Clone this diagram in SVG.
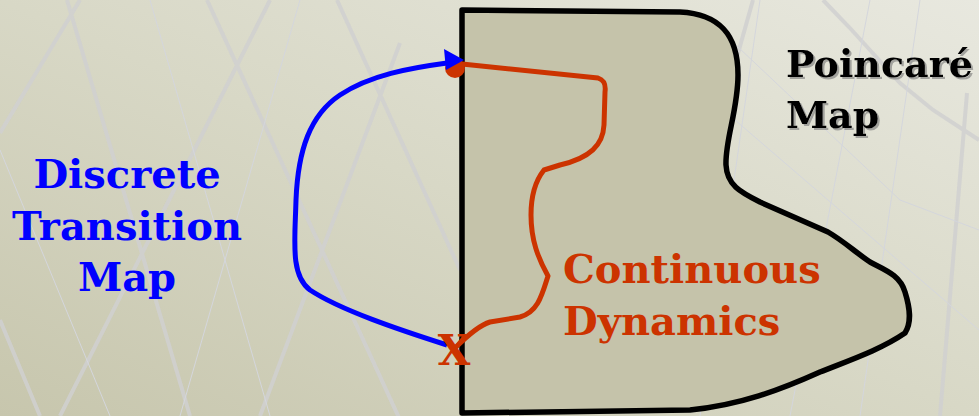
<svg xmlns="http://www.w3.org/2000/svg" width="979" height="416" viewBox="0 0 979 416">
<defs>
<linearGradient id="bg" x1="1" y1="0" x2="0" y2="1">
<stop offset="0" stop-color="#e8e8df"/>
<stop offset="0.5" stop-color="#d8d8c6"/>
<stop offset="1" stop-color="#c7c6ad"/>
</linearGradient>
<filter id="shadow" x="-10%" y="-10%" width="130%" height="130%">
<feDropShadow dx="2" dy="2" stdDeviation="0.6" flood-color="#777" flood-opacity="0.6"/>
</filter>
<style>
.bgl{stroke:#d0d0d0;stroke-width:4;fill:none;opacity:0.85}
.bgt{stroke:#d4d6dc;stroke-width:1;fill:none}
.lbl{font-family:"DejaVu Serif","Liberation Serif",serif;font-weight:bold;font-size:40px}
</style>
</defs>
<rect width="979" height="416" fill="url(#bg)"/>
<g id="background-lines">
<path class="bgl" d="M80,0 L0,133 M67,0 L190,416 M270,0 L60,416 M207,0 L400,420 M0,320 L40,416 M337,0 L460,270 M400,43 L260,416 M753,0 L737,57 M823,0 L849,27 L900,83 L933,110 L979,140 M967,93 L940,416"/>
<path class="bgt" d="M0,150 L110,416 M150,0 L270,416 M300,0 L180,416 M720,30 L900,200 L979,230 M870,0 L790,416 M920,0 L860,416 M735,120 L979,330 M760,0 L700,416"/>
</g>
<g id="poincare-region">
<path d="M462,10 L680,12 C720,14 738,35 738,75 C738,110 725,140 726,165 C727,185 740,192 760,202 L828,232 C845,242 855,252 870,262 C885,270 900,275 905,292 C910,308 912,322 905,333 C880,350 850,360 820,372 C780,390 740,405 690,410 L462,413 Z" fill="#c5c3aa" stroke="#000" stroke-width="5.5" stroke-linejoin="round"/>
</g>
<g id="connectors">
<path id="continuous-flow" d="M462,64 L598,78 C604,80 606,84 605,92 L604,125 C603,145 590,158 560,165 L544,170 C536,180 531,195 531,215 C531,240 538,258 548,276 C542,295 538,312 520,317 L490,322 C480,325 470,333 455,348" fill="none" stroke="#cc3300" stroke-width="5" stroke-linejoin="round"/>
<circle cx="455" cy="68" r="10" fill="#cc3300"/>
<path id="discrete-map" d="M447,345 C400,330 340,310 310,290 C290,275 295,240 296,200 C298,150 310,115 340,95 C370,75 410,68 447,63" fill="none" stroke="#0000ff" stroke-width="5"/>
<polygon points="444,49 464,60 446,70" fill="#0000ff"/>
</g>
<g id="x-marker">
<text class="lbl" x="454" y="365" style="font-size:42px" fill="#cc3300" text-anchor="middle">X</text>
</g>
<g id="label-discrete">
<text class="lbl" fill="#0000ff" text-anchor="middle"><tspan x="127" y="188">Discrete</tspan><tspan x="127" y="240">Transition</tspan><tspan x="127" y="291">Map</tspan></text>
</g>
<g id="label-continuous">
<text class="lbl" fill="#cc3300"><tspan x="563" y="283">Continuous</tspan><tspan x="563" y="335">Dynamics</tspan></text>
</g>
<g id="label-poincare">
<text class="lbl" fill="#000" filter="url(#shadow)" style="font-size:38px"><tspan x="786" y="77">Poincaré</tspan><tspan x="786" y="128">Map</tspan></text>
</g>
</svg>
